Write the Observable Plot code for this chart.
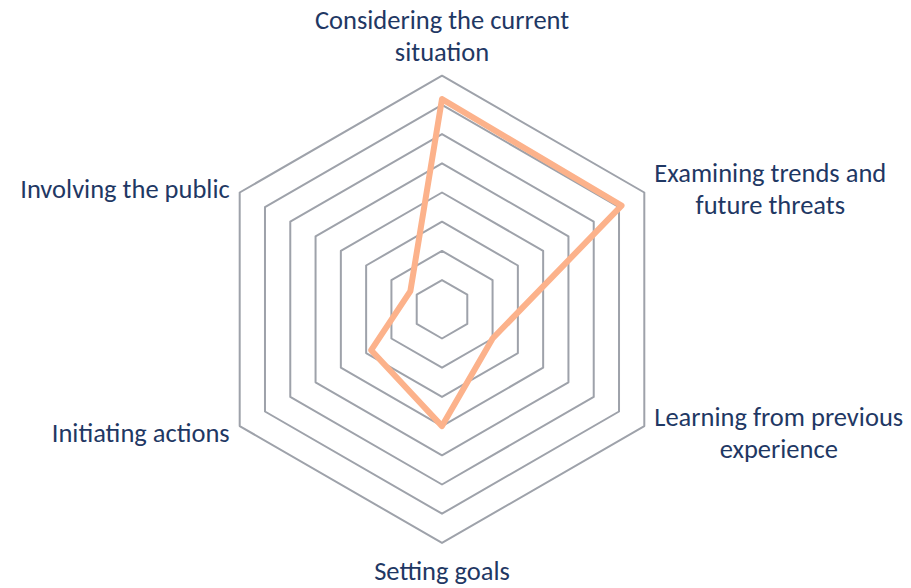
<!DOCTYPE html>
<html>
<head>
<meta charset="utf-8">
<script src="https://cdn.jsdelivr.net/npm/d3@7"></script>
<script src="https://cdn.jsdelivr.net/npm/@observablehq/plot@0.6"></script>
<style>
  html, body { margin: 0; padding: 0; background: #fff; }
  #chart svg { display: block; }
</style>
</head>
<body>
<div id="chart"></div>
<script>
// ---- data ----
const categories = [
  "Considering the current\nsituation",
  "Examining trends and\nfuture threats",
  "Learning from previous\nexperience",
  "Setting goals",
  "Initiating actions",
  "Involving the public"
];
const values = [7.2, 7.1, 2.0, 4.0, 2.8, 1.25];
const rings = [1, 2, 3, 4, 5, 6, 7, 8];

// ---- layout ----
const W = 911, H = 588;
const cx = 441.5, cy = 308.8;   // centre in px
const unit = 29.2;              // px per ring
const rMax = d3.max(rings);
const FONT = "Carlito, Calibri, Lato, sans-serif";
const FS = 26.5;
const textColor = "#1f3864";
const gridColor = "#9ea2aa";
const lineColor = "#fcb28b";

const n = categories.length;
const ang = i => (i * 2 * Math.PI) / n;
const px = (r, i) => r * Math.sin(ang(i));
const py = (r, i) => r * Math.cos(ang(i));

const ringData = rings.flatMap(r => categories.map((c, i) => ({ring: r, x: px(r, i), y: py(r, i)})));
const seriesData = values.map((v, i) => ({cat: categories[i], x: px(v, i), y: py(v, i)}));

// measure label widths
const ctx = document.createElement("canvas").getContext("2d");
ctx.font = `${FS}px ${FONT}`;
const maxW = s => d3.max(s.split("\n"), l => ctx.measureText(l).width);

const gap = 10; // px
const labelData = categories.map((c, i) => {
  const vx = px(rMax, i), vy = py(rMax, i);
  const s = Math.sin(ang(i)), co = Math.cos(ang(i));
  let x = vx, y = vy, lineAnchor = "middle";
  if (Math.abs(s) < 1e-6) {
    if (co > 0) { y = vy + 15 / unit; lineAnchor = "bottom"; }
    else { y = vy - 15 / unit; lineAnchor = "top"; }
  } else {
    x = vx + Math.sign(s) * (gap + maxW(c) / 2) / unit;
    y = vy + (co > 0 ? 4.5 : -5.5) / unit;
  }
  return {text: c, x, y, lineAnchor};
});

const chart = Plot.plot({
  width: W,
  height: H,
  margin: 0,
  x: {domain: [-cx / unit, (W - cx) / unit], axis: null},
  y: {domain: [-(H - cy) / unit, cy / unit], axis: null},
  style: {fontFamily: FONT, background: "#fff"},
  marks: [
    Plot.line(ringData, {x: "x", y: "y", z: "ring", curve: "linear-closed", stroke: gridColor, strokeWidth: 2}),
    Plot.line(seriesData, {x: "x", y: "y", curve: "linear-closed", stroke: lineColor, strokeWidth: 6, strokeLinejoin: "round"}),
    ...["top", "middle", "bottom"].map(la =>
      Plot.text(labelData.filter(d => d.lineAnchor === la), {
        x: "x", y: "y", text: "text", lineAnchor: la, textAnchor: "middle",
        fontSize: FS, fill: textColor, lineHeight: 1.2
      })
    )
  ]
});
document.getElementById("chart").appendChild(chart);
</script>
</body>
</html>
